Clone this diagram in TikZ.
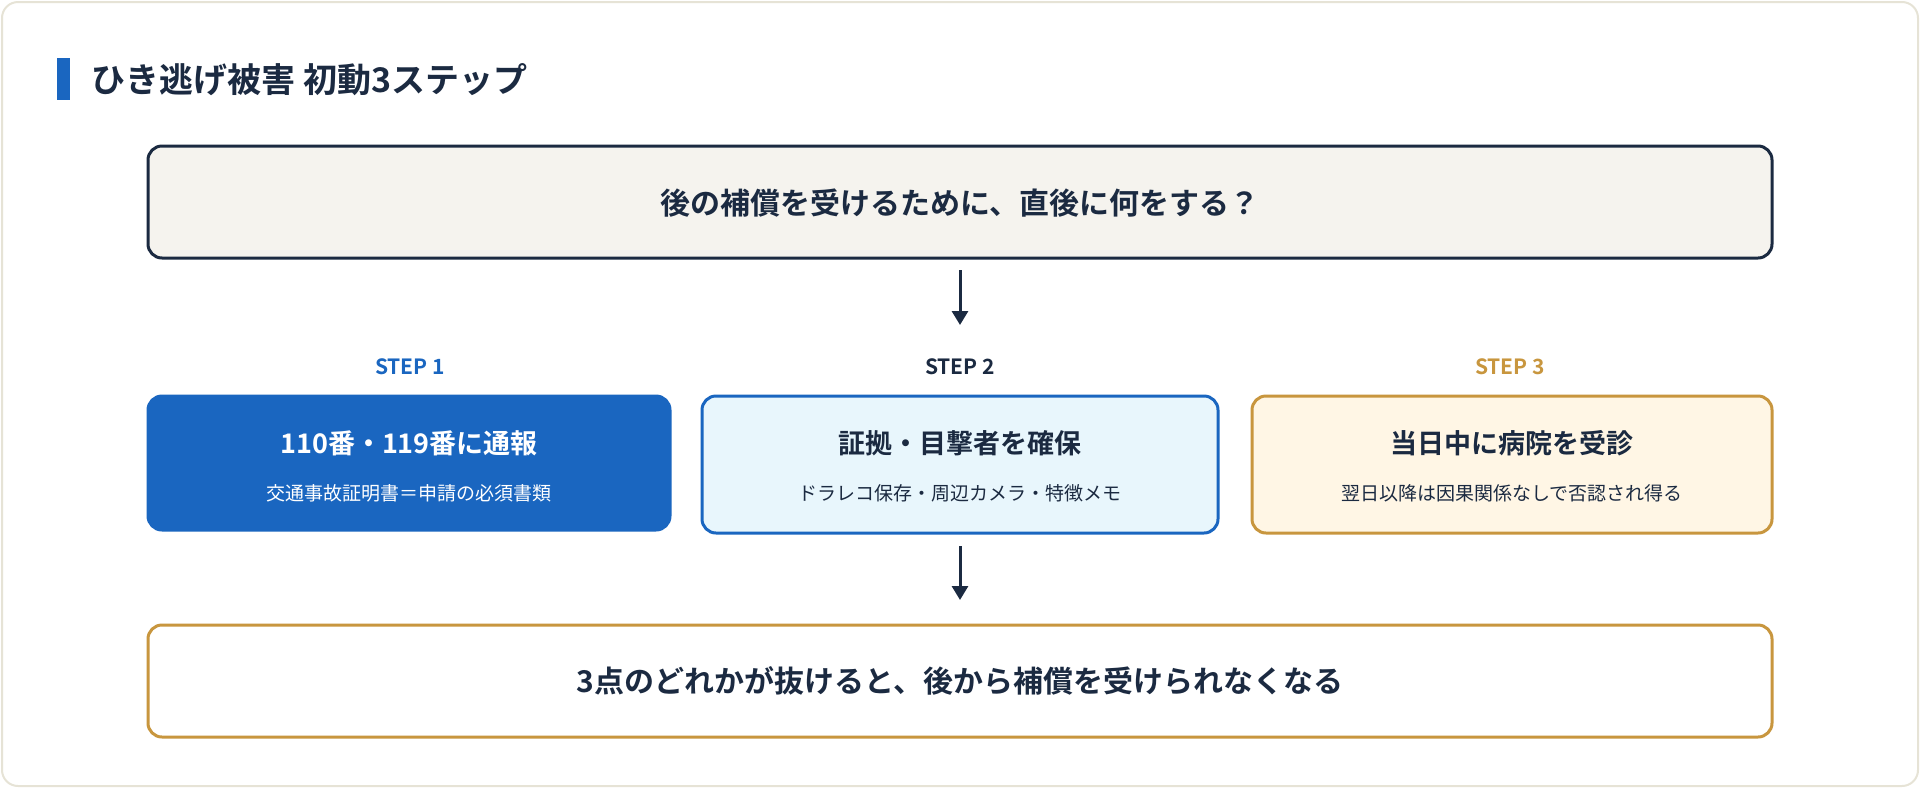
\documentclass[tikz,border=0pt]{standalone}
\usepackage{fontspec}
\setmainfont{Noto Sans CJK JP}[BoldFont={Noto Sans CJK JP Bold}]
\usetikzlibrary{arrows.meta}
\definecolor{navy}{HTML}{1B2A41}
\definecolor{blu}{HTML}{1A66C0}
\definecolor{gold}{HTML}{C8963E}
\definecolor{card}{HTML}{E6E3D6}
\begin{document}
\begin{tikzpicture}[x=1pt,y=-1pt,
  box/.style={draw, line width=3pt, rounded corners=14pt},
  big/.style={font=\bfseries\fontsize{30}{36}\selectfont, text=navy},
  ttl/.style={font=\bfseries\fontsize{27}{32}\selectfont},
  sub/.style={font=\fontsize{19}{24}\selectfont},
  stp/.style={font=\bfseries\fontsize{21}{26}\selectfont},
  arr/.style={-{Triangle[length=14pt,width=16pt]}, line width=3pt, draw=navy}]
\useasboundingbox (0,0) rectangle (1920,788);
\draw[card, line width=2pt, fill=white, rounded corners=16pt] (2,2) rectangle (1918,786);
\fill[blu] (57,58) rectangle (70,100);
\node[anchor=west, font=\bfseries\fontsize{34}{40}\selectfont, text=navy] (title) at (88,80) {ひき逃げ被害 初動3ステップ};
\draw[box, draw=navy, fill={rgb,255:red,245;green,243;blue,238}] (148,146) rectangle (1772,258);
\node[big] (q) at (960,203) {後の補償を受けるために、直後に何をする？};
\coordinate (a1s) at (960,270); \coordinate (a1e) at (960,325);
\draw[arr] (a1s) -- (a1e);
\node[stp, text=blu] (s1) at (410,367) {STEP 1};
\node[stp, text=navy] (s2) at (960,367) {STEP 2};
\node[stp, text=gold] (s3) at (1510,367) {STEP 3};
\draw[box, draw=blu, fill=blu] (148,396) rectangle (670,530);
\node[ttl, text=white] (b1t) at (409,443) {110番・119番に通報};
\node[sub, text=white] (b1s) at (409,493) {交通事故証明書＝申請の必須書類};
\draw[box, draw=blu, fill={rgb,255:red,232;green,246;blue,252}] (702,396) rectangle (1218,533);
\node[ttl, text=navy] (b2t) at (960,443) {証拠・目撃者を確保};
\node[sub, text=navy] (b2s) at (960,493) {ドラレコ保存・周辺カメラ・特徴メモ};
\draw[box, draw=gold, fill={rgb,255:red,255;green,246;blue,229}] (1252,396) rectangle (1772,533);
\node[ttl, text=navy] (b3t) at (1512,443) {当日中に病院を受診};
\node[sub, text=navy] (b3s) at (1512,493) {翌日以降は因果関係なしで否認され得る};
\coordinate (a2s) at (960,546); \coordinate (a2e) at (960,600);
\draw[arr] (a2s) -- (a2e);
\draw[box, draw=gold, fill=white] (148,625) rectangle (1772,737);
\node[big] (c) at (960,681) {3点のどれかが抜けると、後から補償を受けられなくなる};
\end{tikzpicture}
\end{document}
